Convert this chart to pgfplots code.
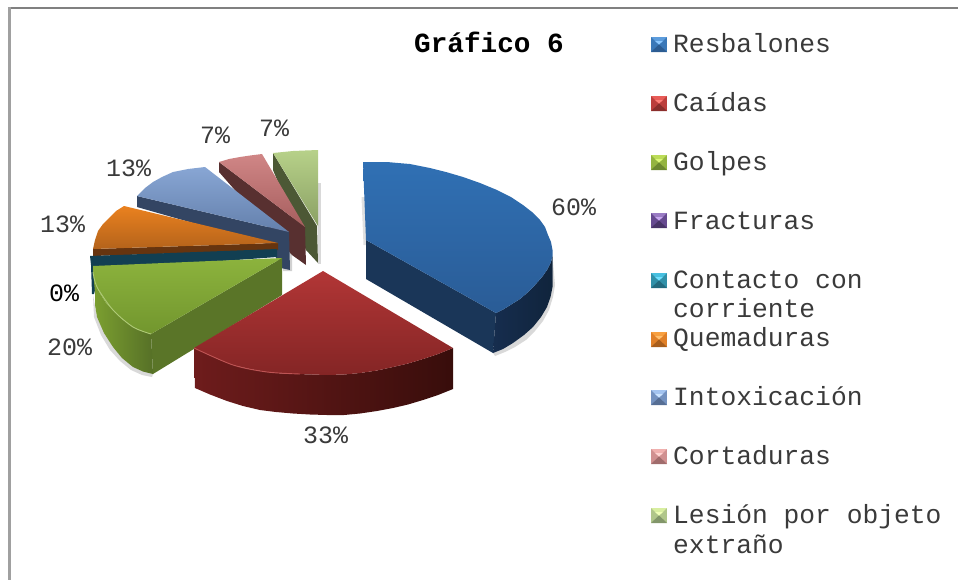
\documentclass[border=0pt]{standalone}
\usepackage{fontspec}
\setmainfont{Liberation Mono}
\usepackage{pgfplots}
\pgfplotsset{compat=1.18}
\definecolor{frT}{HTML}{808080}\definecolor{frL}{HTML}{A0A0A0}
\definecolor{txt}{HTML}{3A3A3A}
% blue
\definecolor{b1}{HTML}{3070B4}\definecolor{b2}{HTML}{2A5C96}\definecolor{b3}{HTML}{162D4E}\definecolor{b4}{HTML}{1A3658}\definecolor{b5}{HTML}{10243C}
% red
\definecolor{r1}{HTML}{B23636}\definecolor{r2}{HTML}{842525}\definecolor{r3}{HTML}{6E1C1C}\definecolor{r4}{HTML}{380D0B}
% green
\definecolor{g1}{HTML}{8CB33D}\definecolor{g2}{HTML}{72962E}
\definecolor{g3}{HTML}{7CA030}\definecolor{g4}{HTML}{567027}\definecolor{g5}{HTML}{5A7528}
% teal, orange
\definecolor{t1}{HTML}{123F52}
\definecolor{o1}{HTML}{EA811F}\definecolor{o2}{HTML}{B4631B}\definecolor{o3}{HTML}{66340F}
% blue-grey
\definecolor{s1}{HTML}{88A6D4}\definecolor{s2}{HTML}{6480AC}\definecolor{s3}{HTML}{334563}
% pink
\definecolor{p1}{HTML}{D08686}\definecolor{p2}{HTML}{A65E5E}\definecolor{p3}{HTML}{583030}
% light green
\definecolor{l1}{HTML}{B7D189}\definecolor{l2}{HTML}{8AA064}\definecolor{l3}{HTML}{4C5835}
% legend colours: centre, upper face, side, lower face
\definecolor{kb0}{HTML}{8CC8FF}\definecolor{kb1}{HTML}{5C9CDC}\definecolor{kb2}{HTML}{3A78B8}\definecolor{kb3}{HTML}{2C5C92}
\definecolor{kr0}{HTML}{FF8078}\definecolor{kr1}{HTML}{E85C58}\definecolor{kr2}{HTML}{BC3E3C}\definecolor{kr3}{HTML}{8A2E2C}
\definecolor{kg0}{HTML}{DCF878}\definecolor{kg1}{HTML}{BCDC58}\definecolor{kg2}{HTML}{94B440}\definecolor{kg3}{HTML}{6C8830}
\definecolor{kv0}{HTML}{C8A8F0}\definecolor{kv1}{HTML}{9A7CC4}\definecolor{kv2}{HTML}{664A90}\definecolor{kv3}{HTML}{483468}
\definecolor{kc0}{HTML}{70E0FF}\definecolor{kc1}{HTML}{48C0E0}\definecolor{kc2}{HTML}{3090A8}\definecolor{kc3}{HTML}{226A7E}
\definecolor{ko0}{HTML}{FFC070}\definecolor{ko1}{HTML}{F8A040}\definecolor{ko2}{HTML}{E08028}\definecolor{ko3}{HTML}{A85E1C}
\definecolor{ks0}{HTML}{CCE4FF}\definecolor{ks1}{HTML}{A4C4F0}\definecolor{ks2}{HTML}{7492C0}\definecolor{ks3}{HTML}{566E94}
\definecolor{kp0}{HTML}{FFD4D2}\definecolor{kp1}{HTML}{F0B0AE}\definecolor{kp2}{HTML}{D09090}\definecolor{kp3}{HTML}{A06C6C}
\definecolor{kl0}{HTML}{F0FFB8}\definecolor{kl1}{HTML}{D8EEA0}\definecolor{kl2}{HTML}{B0C68A}\definecolor{kl3}{HTML}{82966A}
% bevelled legend key: top y, inner y, middle y, bottom y, colour stem
\newcommand{\legkey}[5]{%
\addplot[draw=none,fill=#52] coordinates {(651,#1)(667,#1)(667,#4)(651,#4)};
\addplot[draw=none,fill=#51] coordinates {(651,#1)(667,#1)(659,#3)};
\addplot[draw=none,fill=#50] coordinates {(655,#2)(663,#2)(659,#3)};
\addplot[draw=none,fill=#53] coordinates {(651,#4)(667,#4)(659,#3)};
}
\newcommand{\lab}[4][txt]{\node[anchor=base west,inner sep=0pt,text=#1,font=\fontsize{#4}{#4}\selectfont] at (axis cs:#2) {#3};}
\begin{document}
\begin{tikzpicture}
\useasboundingbox (0,0) rectangle (958bp,580bp);
\begin{axis}[at={(0,0)},anchor=south west,scale only axis,width=958bp,height=580bp,
  xmin=0,xmax=958,ymin=0,ymax=580,y dir=reverse,hide axis,clip=true,no markers]
% frame
\addplot[draw=none,fill=frT] coordinates {(7.5,7)(958,7)(958,9)(7.5,9)};
\addplot[draw=none,fill=frL] coordinates {(7.5,7)(10.5,7)(10.5,580)(7.5,580)};
% soft shadows
\addplot[draw=none,fill=black!15] coordinates {(318,183)(320.5,183)(320.5,264)(318,264)};
\addplot[draw=none,fill=black!18] coordinates {(290,240)(292,240)(292,271)(283,271)(283,268)};
\addplot[draw=none,fill=black!12] coordinates {(361.5,197)(365,197)(367,245)(363.5,245)};
\addplot[draw=none,fill=black!15] coordinates {(553,262)(555,285)(553,297)(549,310)(543,321)(535,331)(526,340)(515,347)(505,352)(495,356)(493,353)(513,343)(533,327)(547,307)(552,287)};
\addplot[draw=none,fill=black!15] coordinates {(93,295)(94,317)(101,335)(110,350)(120,361)(131,370)(142,375)(152,377)(153,374)(133,367)(113,347)(97,317)};
% light green slice
\addplot[draw=none,fill=l3] coordinates {(273,153)(317,226)(318,263)(306,250)(273,170)};
\addplot[draw=none,top color=l1,bottom color=l2] coordinates {(318,226)(318,150)(305,150.5)(293,151)(283,152)(273,153)};
% pink slice
\addplot[draw=none,fill=p3] coordinates {(219,162)(305,227)(306,265)(292,255)(219,172)};
\addplot[draw=none,top color=p1,bottom color=p2] coordinates {(305,227)(262,154)(250,155.5)(240,157)(229,159)(219,162)};
% blue-grey slice
\addplot[draw=none,fill=s3] coordinates {(137,196)(289,232)(290,270)(281,268)(270,245)(137,207)};
\addplot[draw=none,top color=s1,bottom color=s2] coordinates {(289,232)(205,167)(188,169)(173,172)(162,177)(153,182)(145,188)(137,196)};
% orange slice
\addplot[draw=none,fill=o3] coordinates {(93,249)(278,243)(278,250)(93,256)};
\addplot[draw=none,top color=o1,bottom color=o2] coordinates {(278,243)(124,206)(116,211)(110,217)(103,224)(98,231)(95,240)(93,249)};
% teal sliver
\addplot[draw=none,fill=t1] coordinates {(90,256)(277,249)(277,257)(100,270)(94,294)(92,294)(91,265)};
% green slice
\addplot[draw=none,fill=g5] coordinates {(282,258)(282,295)(153,374)(151,334)};
\addplot[draw=none,left color=g3,right color=g4] coordinates {(93,270)(94.5,280)(97,287)(101,295)(106,303)(113,310)(122,319)(133,327)(142,331)(151,334)(153,374)(143,371.5)(133,367)(122,358)(113,347)(104,333)(97,317)(95,305)(95,293)};
\addplot[draw=none,top color=g1,bottom color=g2] coordinates {(282,258)(93,266)(93,272)(94.5,280)(97,287)(101,295)(106,303)(113,310)(122,319)(133,327)(142,331)(151,334)};
\addplot[smooth,color=g1!70!white,line width=.9bp] coordinates {(93,272)(97,287)(113,310)(133,327)(151,334)};
% red slice
\addplot[draw=none,left color=r3,right color=r4] coordinates {(194,348)(207,354)(220,360)(233,365)(250,369)(267,372)(282,373.5)(297,374)(312,374.5)(327,375)(344,374.5)(360,373)(377,370.5)(393,367)(408,363.5)(423,359)(438,354)(453,348)(453,389)(438,395)(423,400)(408,404.5)(393,408)(377,411)(360,413.5)(344,415)(327,415)(310,414.5)(293,413.5)(276,412)(260,410)(243,406)(227,401)(210,394.5)(195,388)};
\addplot[draw=none,top color=r1,bottom color=r2] coordinates {(323,271)(453,348)(438,354)(423,359)(408,363.5)(393,367)(377,370.5)(360,373)(344,374.5)(327,375)(312,374.5)(297,374)(282,373.5)(267,372)(250,369)(233,365)(220,360)(207,354)(194,348)};
\addplot[smooth,color=r1!85!white,line width=.9bp] coordinates {(194,348)(233,365)(267,372)(300,374)};
% blue slice
\addplot[draw=none,fill=b4] coordinates {(366,240)(366,279)(493,353)(496,313)};
\addplot[draw=none,left color=b3,right color=b5] coordinates {(496,313)(504,309)(512,304)(520,299)(527,293)(535,285)(542,277)(547,270)(551,262)(552.5,256)(552.5,287)(550.5,297)(547,307)(541,317)(533,327)(524,335)(513,343)(503,349)(493,353)};
\addplot[draw=none,top color=b1,bottom color=b2] coordinates {(366,240)(363,162)(375,162)(387,162)(398,163)(410,164)(430,168)(446,172)(463,177)(480,183)(497,190)(511,197)(523,205)(532,212)(540,220)(545,227)(548,235)(551,242)(552.5,250)(552.5,256)(551,262)(547,270)(542,277)(535,285)(527,293)(520,299)(512,304)(504,309)(496,313)};
% legend keys
\legkey{37}{41}{44.5}{52}{kb}
\legkey{96}{100}{103.5}{111}{kr}
\legkey{155}{159}{162.5}{170}{kg}
\legkey{213}{217}{220.5}{228}{kv}
\legkey{273}{277}{280.5}{288}{kc}
\legkey{332}{336}{339.5}{347}{ko}
\legkey{390}{394}{397.5}{405}{ks}
\legkey{449}{453}{456.5}{464}{kp}
\legkey{508}{512}{515.5}{523}{kl}
% legend text
\lab{673,52}{Resbalones}{26.4}
\lab{673,111}{Caídas}{26.4}
\lab{673,170}{Golpes}{26.4}
\lab{673,229}{Fracturas}{26.4}
\lab{673,288}{Contacto con}{26.4}
\lab{673,317}{corriente}{26.4}
\lab{673,346}{Quemaduras}{26.4}
\lab{673,405}{Intoxicación}{26.4}
\lab{673,464}{Cortaduras}{26.4}
\lab{673,523}{Lesión por objeto}{26.4}
\lab{673,553}{extraño}{26.4}
% title
\node[anchor=base west,inner sep=0pt,text=black,font=\bfseries\fontsize{27.8}{27.8}\selectfont] at (axis cs:414,52) {Gráfico 6};
% data labels
\lab{551,215}{60\%}{25}
\lab{303,443}{33\%}{25}
\lab{47,355}{20\%}{25}
\lab[black]{49,301}{0\%}{25}
\lab{40,232}{13\%}{25}
\lab{106,176}{13\%}{25}
\lab{200,143}{7\%}{25}
\lab{259,136}{7\%}{25}
\end{axis}
\end{tikzpicture}
\end{document}
